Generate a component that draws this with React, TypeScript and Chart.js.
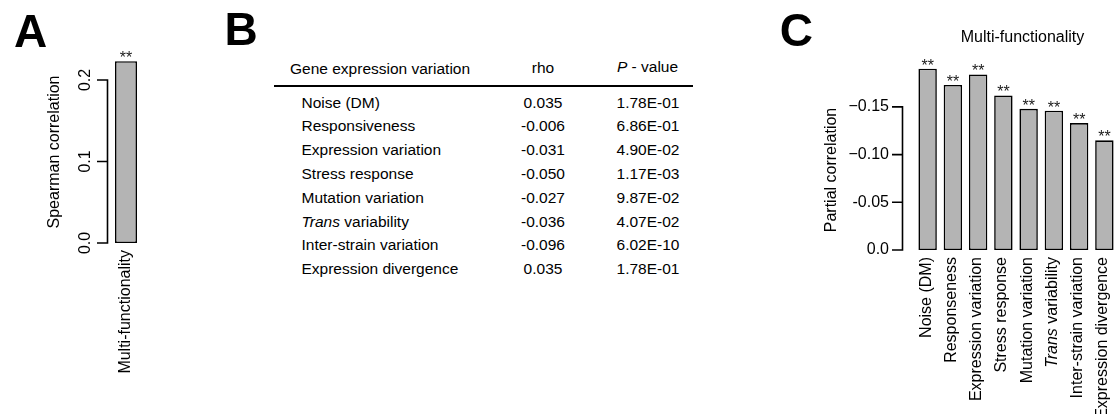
import { useEffect, useRef } from "react";
import { Chart, registerables } from "chart.js";
import type { ChartConfiguration, Plugin } from "chart.js";

Chart.register(...registerables);

const FONT = '"Liberation Sans", Arial, Helvetica, sans-serif';
const BAR_FILL = "#b4b4b4";
const INK = "#000000";

// Panel A: Spearman correlation of multi-functionality
const spearmanCategories = ["Multi-functionality"];
const spearmanValues = [0.223];
const spearmanMarks = ["**"];
const spearmanTickValues = [0, 0.1, 0.2];
const spearmanTickLabels = ["0.0", "0.1", "0.2"];

// Panel B: correlation table
const tableHeaders = ["Gene expression variation", "rho", "P - value"];
const traitNames = [
  "Noise (DM)",
  "Responsiveness",
  "Expression variation",
  "Stress response",
  "Mutation variation",
  "Trans variability",
  "Inter-strain variation",
  "Expression divergence",
];
const traitRho = ["0.035", "-0.006", "-0.031", "-0.050", "-0.027", "-0.036", "-0.096", "0.035"];
const traitPValues = [
  "1.78E-01",
  "6.86E-01",
  "4.90E-02",
  "1.17E-03",
  "9.87E-02",
  "4.07E-02",
  "6.02E-10",
  "1.78E-01",
];

// Panel C: partial correlation with multi-functionality
const partialTitle = "Multi-functionality";
const partialCategories = [
  "Noise (DM)",
  "Responseness",
  "Expression variation",
  "Stress response",
  "Mutation variation",
  "Trans variability",
  "Inter-strain variation",
  "Expression divergence",
];
const partialValues = [-0.19, -0.173, -0.184, -0.162, -0.148, -0.146, -0.133, -0.115];
const partialMarks = ["**", "**", "**", "**", "**", "**", "**", "**"];
const partialTickValues = [0, -0.05, -0.1, -0.15];
const partialTickLabels = ["0.0", "-0.05", "\u22120.10", "\u22120.15"];

// Words set in italics wherever they lead a label
const italicWords = ["Trans", "P"];

type Segment = { text: string; italic: boolean };

function splitItalic(label: string): Segment[] {
  for (const w of italicWords) {
    if (label.startsWith(w + " ")) {
      return [
        { text: w, italic: true },
        { text: label.slice(w.length), italic: false },
      ];
    }
  }
  return [{ text: label, italic: false }];
}

function drawSegments(
  ctx: CanvasRenderingContext2D,
  label: string,
  x: number,
  y: number,
  align: "left" | "right" | "center",
  size: number
) {
  const segs = splitItalic(label);
  const fontFor = (s: Segment) => `${s.italic ? "italic " : ""}${size}px ${FONT}`;
  let total = 0;
  const widths = segs.map((s) => {
    ctx.font = fontFor(s);
    const w = ctx.measureText(s.text).width;
    total += w;
    return w;
  });
  let cx = align === "right" ? x - total : align === "center" ? x - total / 2 : x;
  ctx.textAlign = "left";
  segs.forEach((s, i) => {
    ctx.font = fontFor(s);
    ctx.fillText(s.text, cx, y);
    cx += widths[i];
  });
}

interface PanelDecor {
  categories: string[];
  marks: string[];
  tickValues: number[];
  tickLabels: string[];
  tickLabelsVertical: boolean;
  axisX: number;
  tickLength: number;
  tickLabelX: number;
  yTitle: string;
  yTitleX: number;
  yTitleY: number;
  xLabelTop: number;
  xLabelShift: number;
  title?: string;
  titleX?: number;
  titleY?: number;
}

// Draws the R-style axis, rotated category labels, titles and significance marks
function decorPlugin(d: PanelDecor): Plugin<"bar"> {
  return {
    id: "panelDecor",
    afterDatasetsDraw(chart) {
      const ctx = chart.ctx;
      const yScale = chart.scales.y;
      const xScale = chart.scales.x;
      const meta = chart.getDatasetMeta(0);
      const size = 16;
      ctx.save();
      ctx.fillStyle = INK;
      ctx.strokeStyle = INK;

      // y axis line with ticks
      const yStart = yScale.getPixelForValue(d.tickValues[0]);
      const yEnd = yScale.getPixelForValue(d.tickValues[d.tickValues.length - 1]);
      ctx.lineWidth = 1.6;
      ctx.beginPath();
      ctx.moveTo(d.axisX, yStart + 0.8);
      ctx.lineTo(d.axisX, yEnd - 0.8);
      d.tickValues.forEach((v) => {
        const py = yScale.getPixelForValue(v);
        ctx.moveTo(d.axisX + 0.8, py);
        ctx.lineTo(d.axisX - d.tickLength, py);
      });
      ctx.stroke();

      // tick labels
      ctx.font = `${size}px ${FONT}`;
      d.tickValues.forEach((v, i) => {
        const py = yScale.getPixelForValue(v);
        if (d.tickLabelsVertical) {
          ctx.save();
          ctx.translate(d.tickLabelX, py);
          ctx.rotate(-Math.PI / 2);
          ctx.textAlign = "center";
          ctx.textBaseline = "alphabetic";
          ctx.fillText(d.tickLabels[i], 0, 0);
          ctx.restore();
        } else {
          ctx.textAlign = "right";
          ctx.textBaseline = "middle";
          ctx.fillText(d.tickLabels[i], d.tickLabelX, py);
        }
      });

      // y axis title
      ctx.save();
      ctx.translate(d.yTitleX, d.yTitleY);
      ctx.rotate(-Math.PI / 2);
      ctx.textAlign = "center";
      ctx.textBaseline = "alphabetic";
      ctx.font = `${size}px ${FONT}`;
      ctx.fillText(d.yTitle, 0, 0);
      ctx.restore();

      // rotated category labels
      ctx.textBaseline = "alphabetic";
      d.categories.forEach((label, i) => {
        const px = xScale.getPixelForValue(i);
        ctx.save();
        ctx.translate(px + d.xLabelShift, d.xLabelTop);
        ctx.rotate(-Math.PI / 2);
        drawSegments(ctx, label, 0, 0, "right", size);
        ctx.restore();
      });

      // significance marks above the bars
      ctx.font = `${size}px ${FONT}`;
      ctx.textAlign = "center";
      ctx.textBaseline = "alphabetic";
      ctx.fillStyle = "#1a1a1a";
      meta.data.forEach((el: any, i: number) => {
        ctx.fillText(d.marks[i], el.x, el.y + 2);
      });

      // panel title
      if (d.title) {
        ctx.fillStyle = INK;
        ctx.font = `${size}px ${FONT}`;
        ctx.textAlign = "center";
        ctx.fillText(d.title, d.titleX ?? 0, d.titleY ?? 0);
      }
      ctx.restore();
    },
  };
}

interface BarCanvasProps {
  left: number;
  width: number;
  height: number;
  build: () => ChartConfiguration<"bar">;
}

function BarCanvas({ left, width, height, build }: BarCanvasProps) {
  const ref = useRef<HTMLCanvasElement>(null);
  useEffect(() => {
    if (!ref.current) return;
    const chart = new Chart(ref.current, build());
    return () => chart.destroy();
  }, []);
  return (
    <canvas
      ref={ref}
      width={width}
      height={height}
      style={{ position: "absolute", left, top: 0, width, height }}
    />
  );
}

function spearmanConfig(): ChartConfiguration<"bar"> {
  return {
    type: "bar",
    data: {
      labels: spearmanCategories,
      datasets: [
        {
          data: spearmanValues,
          backgroundColor: BAR_FILL,
          borderColor: INK,
          borderWidth: 1.6,
          borderSkipped: false,
          barPercentage: 0.786,
          categoryPercentage: 1,
        },
      ],
    },
    options: {
      responsive: false,
      animation: false,
      events: [],
      layout: { padding: { left: 112, right: 60, top: 47.4, bottom: 171 } },
      plugins: { legend: { display: false }, tooltip: { enabled: false } },
      scales: {
        x: { display: false },
        y: { display: false, min: 0, max: 0.24 },
      },
    },
    plugins: [
      decorPlugin({
        categories: spearmanCategories,
        marks: spearmanMarks,
        tickValues: spearmanTickValues,
        tickLabels: spearmanTickLabels,
        tickLabelsVertical: true,
        axisX: 107.5,
        tickLength: 10.5,
        tickLabelX: 90,
        yTitle: "Spearman correlation",
        yTitleX: 58.5,
        yTitleY: 152,
        xLabelTop: 250,
        xLabelShift: 3.5,
      }),
    ],
  };
}

function partialConfig(): ChartConfiguration<"bar"> {
  return {
    type: "bar",
    data: {
      labels: partialCategories,
      datasets: [
        {
          data: partialValues,
          backgroundColor: BAR_FILL,
          borderColor: INK,
          borderWidth: 1.6,
          borderSkipped: false,
          barPercentage: 0.73,
          categoryPercentage: 1,
        },
      ],
    },
    options: {
      responsive: false,
      animation: false,
      events: [],
      layout: { padding: { left: 155, right: 1, top: 59.2, bottom: 164 } },
      plugins: { legend: { display: false }, tooltip: { enabled: false } },
      scales: {
        x: { display: false },
        y: { display: false, min: -0.2, max: 0, reverse: true },
      },
    },
    plugins: [
      decorPlugin({
        categories: partialCategories,
        marks: partialMarks,
        tickValues: partialTickValues,
        tickLabels: partialTickLabels,
        tickLabelsVertical: false,
        axisX: 142.5,
        tickLength: 10.5,
        tickLabelX: 129,
        yTitle: "Partial correlation",
        yTitleX: 76,
        yTitleY: 170,
        xLabelTop: 257,
        xLabelShift: 3,
        title: partialTitle,
        titleX: 262.5,
        titleY: 41.5,
      }),
    ],
  };
}

const tableFont = 15.5;
const rowTop = 102.5;
const rowStep = 23.83;

function CellText({ text, x, cy, align }: { text: string; x: number; cy: number; align: "left" | "center" }) {
  const segs = splitItalic(text);
  const box = 200;
  return (
    <div
      style={{
        position: "absolute",
        left: align === "center" ? x - box / 2 : x,
        width: align === "center" ? box : undefined,
        top: cy - 10,
        height: 20,
        lineHeight: "20px",
        fontSize: tableFont,
        fontFamily: FONT,
        textAlign: align,
        whiteSpace: "pre",
        color: INK,
      }}
    >
      {segs.map((s, i) => (s.italic ? <i key={i}>{s.text}</i> : <span key={i}>{s.text}</span>))}
    </div>
  );
}

function PanelLetter({ letter, left, baseline }: { letter: string; left: number; baseline: number }) {
  return (
    <div
      style={{
        position: "absolute",
        left,
        top: baseline - 38.94,
        height: 46,
        lineHeight: "46px",
        fontSize: 46,
        fontWeight: "bold",
        fontFamily: FONT,
        color: INK,
      }}
    >
      {letter}
    </div>
  );
}

export default function App() {
  return (
    <div
      style={{
        position: "fixed",
        left: 0,
        top: 0,
        width: 1115,
        height: 414,
        overflow: "hidden",
        background: "#ffffff",
      }}
    >
      <BarCanvas left={0} width={200} height={414} build={spearmanConfig} />
      <BarCanvas left={760} width={358} height={414} build={partialConfig} />

      <PanelLetter letter="A" left={14} baseline={46.5} />
      <PanelLetter letter="B" left={224.6} baseline={45} />
      <PanelLetter letter="C" left={779.7} baseline={46} />

      <CellText text={tableHeaders[0]} x={290} cy={68.5} align="left" />
      <CellText text={tableHeaders[1]} x={543} cy={68} align="center" />
      <CellText text={tableHeaders[2]} x={647.5} cy={66.5} align="center" />
      <div style={{ position: "absolute", left: 274, top: 85, width: 419, height: 2, background: INK }} />

      {traitNames.map((name, i) => (
        <div key={name}>
          <CellText text={name} x={301.5} cy={rowTop + i * rowStep} align="left" />
          <CellText text={traitRho[i]} x={543} cy={rowTop + i * rowStep} align="center" />
          <CellText text={traitPValues[i]} x={648} cy={rowTop + i * rowStep} align="center" />
        </div>
      ))}
    </div>
  );
}
